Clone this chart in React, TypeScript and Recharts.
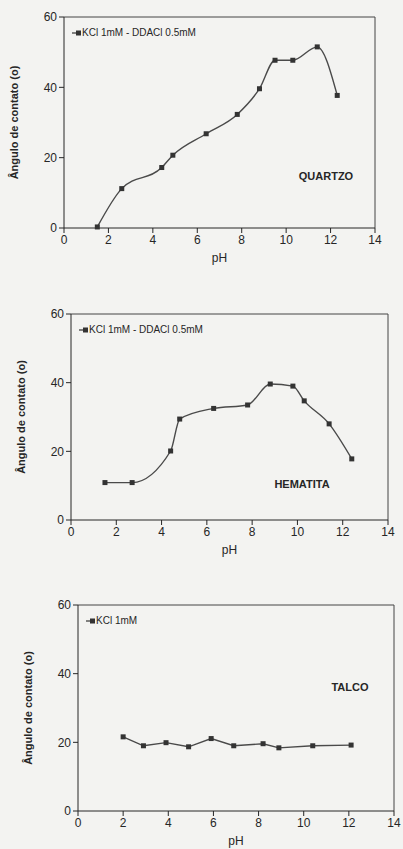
import React from 'react';
import { LineChart, Line, XAxis, YAxis, ReferenceLine } from 'recharts';

// pH / contact angle readings, one pair of arrays per mineral
const phQuartzo = [1.5, 2.6, 4.4, 4.9, 6.4, 7.8, 8.8, 9.5, 10.3, 11.4, 12.3];
const anguloQuartzo = [0.3, 11.2, 17.2, 20.7, 26.8, 32.3, 39.6, 47.7, 47.7, 51.5, 37.7];

const phHematita = [1.5, 2.7, 4.4, 4.8, 6.3, 7.8, 8.8, 9.8, 10.3, 11.4, 12.4];
const anguloHematita = [10.9, 10.9, 20.1, 29.4, 32.5, 33.5, 39.6, 39.0, 34.7, 28.0, 17.8];

const phTalco = [2.0, 2.9, 3.9, 4.9, 5.9, 6.9, 8.2, 8.9, 10.4, 12.1];
const anguloTalco = [21.6, 19.0, 19.9, 18.7, 21.1, 19.0, 19.6, 18.4, 19.0, 19.2];

const xTicks = [0, 2, 4, 6, 8, 10, 12, 14];
const yTicks = [0, 20, 40, 60];

const yLabel = 'Ângulo de contato (o)';
const ink = '#262626';
const font = 'Arial, "Liberation Sans", sans-serif';

const toRows = (xs: number[], ys: number[]) => xs.map((ph, i) => ({ ph, angulo: ys[i] }));

const SquareDot = (props: any) => {
  const { cx, cy } = props;
  if (cx == null || cy == null) return null;
  return <rect x={cx - 2.5} y={cy - 2.5} width={5} height={5} fill="#333" />;
};

interface PanelProps {
  rows: { ph: number; angulo: number }[];
  legend: string;
  mineral: string;
  top: number;
  height: number;
  left: number;
  right: number;
  plotTop: number;
  plotBottom: number;
  curve: 'monotone' | 'linear';
  mineralPos: [number, number];
}

const Panel: React.FC<PanelProps> = ({
  rows, legend, mineral, top, height, left, right, plotTop, plotBottom, curve, mineralPos,
}) => {
  const xAxisH = 36;
  const tick = { fill: ink, fontSize: 12, fontFamily: font };
  const midY = (plotTop + plotBottom) / 2;
  return (
    <div style={{ position: 'absolute', top, left: 0 }}>
      <LineChart
        width={403}
        height={height}
        data={rows}
        margin={{ top: plotTop, right: 403 - right, bottom: height - plotBottom - xAxisH, left: 0 }}
      >
        <XAxis
          dataKey="ph"
          type="number"
          domain={[0, 14]}
          ticks={xTicks}
          height={xAxisH}
          stroke={ink}
          tick={tick}
          tickSize={5}
          label={{ value: 'pH', position: 'insideBottom', offset: 2, fill: ink, fontSize: 12, fontFamily: font }}
        />
        <YAxis
          type="number"
          domain={[0, 60]}
          ticks={yTicks}
          width={left}
          stroke={ink}
          tick={tick}
          tickSize={5}
        />
        {/* frame: top and right borders of the plot box */}
        <ReferenceLine y={60} stroke="#444" strokeWidth={1} />
        <ReferenceLine x={14} stroke="#444" strokeWidth={1} />
        <Line
          type={curve}
          dataKey="angulo"
          stroke="#4a4a4a"
          strokeWidth={1.4}
          dot={<SquareDot />}
          activeDot={false}
          isAnimationActive={false}
        />
        <text
          transform={`translate(${left - 49},${midY}) rotate(-90)`}
          textAnchor="middle"
          dominantBaseline="middle"
          fontSize={11}
          fontWeight="bold"
          fontFamily={font}
          fill={ink}
        >
          {yLabel}
        </text>
        <g>
          <line x1={left + 8} x2={left + 14} y1={plotTop + 16} y2={plotTop + 16} stroke="#333" strokeWidth={1.2} />
          <rect x={left + 12} y={plotTop + 13.5} width={5} height={5} fill="#333" />
          <text x={left + 18} y={plotTop + 16} dominantBaseline="middle" fontSize={10} fontFamily={font} fill={ink}>
            {legend}
          </text>
        </g>
        <text
          x={mineralPos[0]}
          y={mineralPos[1]}
          textAnchor="middle"
          dominantBaseline="middle"
          fontSize={11}
          fontWeight="bold"
          fontFamily={font}
          fill={ink}
        >
          {mineral}
        </text>
      </LineChart>
    </div>
  );
};

export default function App() {
  return (
    <div style={{ position: 'absolute', top: 0, left: 0, width: 403, height: 849, background: '#f3f3f1', overflow: 'hidden' }}>
      <Panel
        rows={toRows(phQuartzo, anguloQuartzo)}
        legend="KCl 1mM - DDACl 0.5mM"
        mineral="QUARTZO"
        top={0}
        height={270}
        left={64}
        right={375}
        plotTop={17}
        plotBottom={228}
        curve="monotone"
        mineralPos={[326, 177]}
      />
      <Panel
        rows={toRows(phHematita, anguloHematita)}
        legend="KCl 1mM - DDACl 0.5mM"
        mineral="HEMATITA"
        top={290}
        height={275}
        left={71}
        right={388}
        plotTop={24}
        plotBottom={230}
        curve="monotone"
        mineralPos={[302, 195]}
      />
      <Panel
        rows={toRows(phTalco, anguloTalco)}
        legend="KCl 1mM"
        mineral="TALCO"
        top={580}
        height={269}
        left={78}
        right={394}
        plotTop={25}
        plotBottom={231}
        curve="linear"
        mineralPos={[350, 108]}
      />
    </div>
  );
}
